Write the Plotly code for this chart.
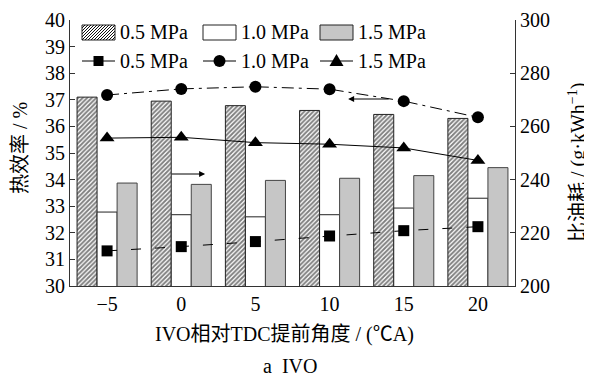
import plotly.graph_objects as go

# ---- data ----
ivo = [-5, 0, 5, 10, 15, 20]
tick_labels = ["\u22125", "0", "5", "10", "15", "20"]
eff_05 = [37.1, 36.95, 36.78, 36.6, 36.45, 36.3]
eff_10 = [32.78, 32.68, 32.6, 32.68, 32.93, 33.3]
eff_15 = [33.87, 33.82, 33.97, 34.05, 34.15, 34.45]
bsfc_05 = [213.2, 214.8, 216.7, 218.8, 220.8, 222.3]
bsfc_10 = [271.8, 274.1, 274.9, 274.0, 269.5, 263.4]
bsfc_15 = [255.6, 255.9, 253.9, 253.3, 251.9, 247.2]
series_names = ["0.5 MPa", "1.0 MPa", "1.5 MPa"]

FONT = "Liberation Serif, Times New Roman, Noto Sans CJK SC, serif"
FS = 20
OFF = 8  # page body margin
W, H = 592 - OFF, 376 - OFF
L, R, T, B = 70, 515, 20, 286  # page pixel coords of plot area


def px(x):
    return (x - L) / (R - L)


def py(y):
    return (B - y) / (B - T)


fig = go.Figure()
bar_styles = [
    dict(color="white", line=dict(color="#222", width=1),
         pattern=dict(shape="/", fgcolor="#000", bgcolor="white", size=3.2, solidity=0.6)),
    dict(color="white", line=dict(color="#222", width=1)),
    dict(color="#c6c6c6", line=dict(color="#444", width=1)),
]
for vals, st, nm in zip([eff_05, eff_10, eff_15], bar_styles, series_names):
    fig.add_trace(go.Bar(x=ivo, y=vals, name=nm, marker=st, showlegend=False,
                         yaxis="y"))

line_specs = [
    (bsfc_05, "square", 11, "10px,14px"),
    (bsfc_10, "circle", 12, "12px,5px,3px,5px"),
    (bsfc_15, "triangle-up", 13, "solid"),
]
for vals, sym, sz, dash in line_specs:
    fig.add_trace(go.Scatter(x=ivo, y=vals, yaxis="y2", mode="lines+markers",
                             line=dict(color="black", width=1, dash=dash),
                             marker=dict(symbol=sym, size=sz, color="black"),
                             showlegend=False))

shapes = []
annotations = []
tfont = dict(size=FS, family=FONT, color="black")

# legend row 1: bar swatches
cols = [(82, 115), (203, 236), (320, 353)]
fills = ["white", "white", "#c6c6c6"]
for (x0, x1), fc in zip(cols, fills):
    shapes.append(dict(type="rect", xref="paper", yref="paper",
                       x0=px(x0), x1=px(x1), y0=py(40), y1=py(25),
                       fillcolor=fc, line=dict(color="#222", width=1)))
# hatch for first swatch
x0, x1, y0, y1 = 82, 115, 25, 40
path = ""
s = x0 - (y1 - y0)
while s < x1:
    ax_, ay_ = s, y1
    bx_, by_ = s + (y1 - y0), y0
    if ax_ < x0:
        ay_ = y1 - (x0 - ax_)
        ax_ = x0
    if bx_ > x1:
        by_ = y0 + (bx_ - x1)
        bx_ = x1
    if ax_ < bx_:
        path += f"M{px(ax_)},{py(ay_)} L{px(bx_)},{py(by_)} "
    s += 3
shapes.append(dict(type="path", xref="paper", yref="paper", path=path,
                   line=dict(color="#111", width=1)))
for (x0, x1), nm in zip(cols, series_names):
    annotations.append(dict(xref="paper", yref="paper", x=px(x1 + 3), y=py(32),
                            text=nm, showarrow=False, xanchor="left",
                            yanchor="middle", font=tfont))

# legend row 2: line symbols
ry = 61
for (x0, x1), nm in zip(cols, series_names):
    shapes.append(dict(type="line", xref="paper", yref="paper",
                       x0=px(x0), x1=px(x1), y0=py(ry), y1=py(ry),
                       line=dict(color="black", width=1)))
    annotations.append(dict(xref="paper", yref="paper", x=px(x1 + 3), y=py(ry),
                            text=nm, showarrow=False, xanchor="left",
                            yanchor="middle", font=tfont))
cx = [(a + b) / 2 for a, b in cols]
shapes.append(dict(type="rect", xref="paper", yref="paper",
                   x0=px(cx[0] - 5), x1=px(cx[0] + 5), y0=py(ry + 5), y1=py(ry - 5),
                   fillcolor="black", line=dict(width=0)))
shapes.append(dict(type="circle", xref="paper", yref="paper",
                   x0=px(cx[1] - 6), x1=px(cx[1] + 6), y0=py(ry + 6), y1=py(ry - 6),
                   fillcolor="black", line=dict(width=0)))
shapes.append(dict(type="path", xref="paper", yref="paper",
                   path=f"M{px(cx[2]-7)},{py(ry+5)} L{px(cx[2]+7)},{py(ry+5)} L{px(cx[2])},{py(ry-7)} Z",
                   fillcolor="black", line=dict(width=0)))

# arrows
annotations.append(dict(x=1.61, y=34.21, xref="x", yref="y", ax=-35, ay=0,
                        axref="pixel", ayref="pixel", showarrow=True, text="",
                        arrowhead=2, arrowsize=1.2, arrowwidth=1, arrowcolor="black"))
annotations.append(dict(x=11.25, y=270.3, xref="x", yref="y2", ax=42, ay=0,
                        showarrow=True, text="",
                        arrowhead=2, arrowsize=1.2, arrowwidth=1, arrowcolor="black"))

# axis titles
ctr = dict(xanchor="center", yanchor="middle", showarrow=False, font=tfont,
           xref="paper", yref="paper")
annotations.append(dict(x=px(20), y=py(148), text="热效率 / %", textangle=-90, **ctr))
annotations.append(dict(x=px(577), y=py(163), text="比油耗 / (g·kWh<sup>−1</sup>)",
                        textangle=-90, **ctr))
annotations.append(dict(x=px(284), y=py(334), text="IVO相对TDC提前角度 / (℃A)", **ctr))
annotations.append(dict(x=px(290), y=py(366), text="a  IVO", **ctr))

axcommon = dict(showline=True, linecolor="#333", linewidth=1, showgrid=False,
                zeroline=False, automargin=False,
                tickfont=dict(size=FS, family=FONT, color="black"))
fig.update_layout(
    width=W, height=H,
    margin=dict(l=L - OFF, r=W - (R - OFF), t=T - OFF, b=H - (B - OFF), pad=0),
    paper_bgcolor="white", plot_bgcolor="white",
    barmode="group", bargap=0.19, bargroupgap=0,
    font=dict(family=FONT, size=FS, color="black"),
    showlegend=False,
    xaxis=dict(range=[-7.5, 22.5], tickvals=ivo, ticktext=tick_labels, ticks="", **axcommon),
    yaxis=dict(range=[30, 40], dtick=1, ticks="inside", ticklen=5, tickcolor="#333", **axcommon),
    yaxis2=dict(range=[200, 300], dtick=20, overlaying="y", side="right",
                ticks="inside", ticklen=5, tickcolor="#333", **axcommon),
    shapes=shapes, annotations=annotations,
)

fig.write_html("out.html")
